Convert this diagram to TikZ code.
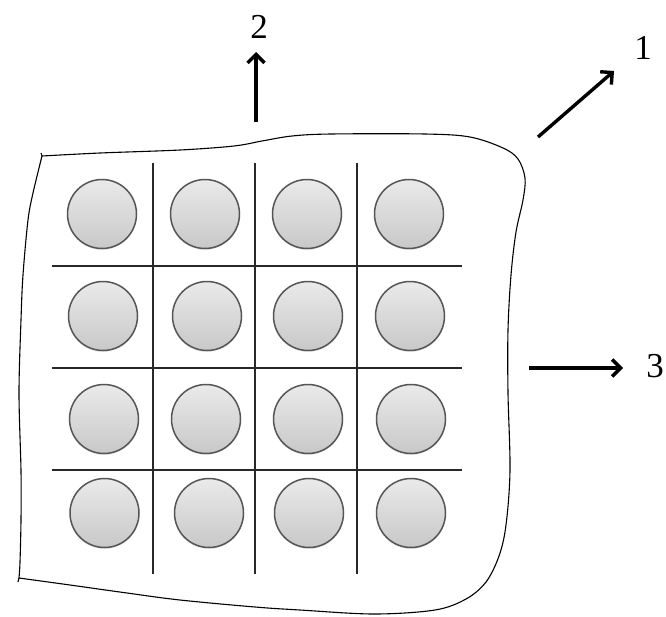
\documentclass[tikz,border=0pt]{standalone}
\usepackage{fontspec}
\setmainfont{Liberation Serif}
\usetikzlibrary{arrows.meta,shadows}
\definecolor{balltop}{RGB}{234,234,234}
\definecolor{ballbot}{RGB}{200,200,200}
\definecolor{balledge}{RGB}{85,85,85}
\definecolor{gridcol}{RGB}{40,40,40}
\tikzset{
  ball/.style={circle, minimum size=69pt, inner sep=0pt, draw=balledge, line width=1.5pt,
    top color=balltop, bottom color=ballbot,
    drop shadow={opacity=0.18, shadow xshift=0pt, shadow yshift=-1.5pt}},
  gridline/.style={draw=gridcol, line width=1.3pt},
  outline/.style={draw=black, line width=1.1pt},
  arrowline/.style={draw=black, line width=3.4pt, -{Straight Barb[length=8.5pt, width=17pt]}},
  lbl/.style={font=\fontsize{35}{40}\selectfont, inner sep=0pt}
}
\begin{document}
\begin{tikzpicture}[x=1pt, y=-1pt]
\useasboundingbox (0,0) rectangle (666,616);
\fill[white] (0,0) rectangle (666,616);
% outline (sheet)
\draw[outline, line join=round] plot[smooth, tension=0.55] coordinates {
  (42,156) (100,153) (180,150) (234,146) (262,141) (292,136) (331,134) (425,134)
  (470,137) (503,148) (518,159) (525,178) (523,200) (516,232) (511,275)
  (508,330) (508,393) (510,470) (506,525) (499,556) (486,582) (466,599)
  (435,610) (374,614) (300,610) (255,607) (180,600) (127,593) (70,585) (19,578)};
\draw[outline, line join=round] plot[smooth, tension=0.55] coordinates {
  (19,578) (20,562) (21,520) (21,471) (19,393) (21,320) (23,275) (28,220) (33,193) (42,156)};
\draw[outline] (41,153) -- (42,156);
\draw[outline] (19,578) -- (18,582);
% grid
\foreach \x in {153,255,357} \draw[gridline] (\x,163) -- (\x,574);
\foreach \y in {266,368,470} \draw[gridline] (52,\y) -- (462,\y);
% balls
\node[ball] (c11) at (102,214) {};
\node[ball] (c12) at (205,214) {};
\node[ball] (c13) at (307,214) {};
\node[ball] (c14) at (409,214) {};
\node[ball] (c21) at (103,316) {};
\node[ball] (c22) at (207,316) {};
\node[ball] (c23) at (308,316) {};
\node[ball] (c24) at (410,316) {};
\node[ball] (c31) at (104,419) {};
\node[ball] (c32) at (206,419) {};
\node[ball] (c33) at (308,419) {};
\node[ball] (c34) at (411,419) {};
\node[ball] (c41) at (104.5,513) {};
\node[ball] (c42) at (209,513) {};
\node[ball] (c43) at (309,513) {};
\node[ball] (c44) at (411,513) {};
% arrows and labels
\node[lbl] (n2) at (259,27) {2};
\node[lbl] (n1) at (643,48) {1};
\node[lbl] (n3) at (655,366) {3};
\coordinate (t2) at (256,122);
\coordinate (h2) at (256,52);
\coordinate (t1) at (538,137);
\coordinate (h1) at (614,71);
\coordinate (t3) at (529,368);
\coordinate (h3) at (623,368);
\draw[arrowline] (t2) -- (h2);
\draw[arrowline] (t1) -- (h1);
\draw[arrowline] (t3) -- (h3);
\end{tikzpicture}
\end{document}
